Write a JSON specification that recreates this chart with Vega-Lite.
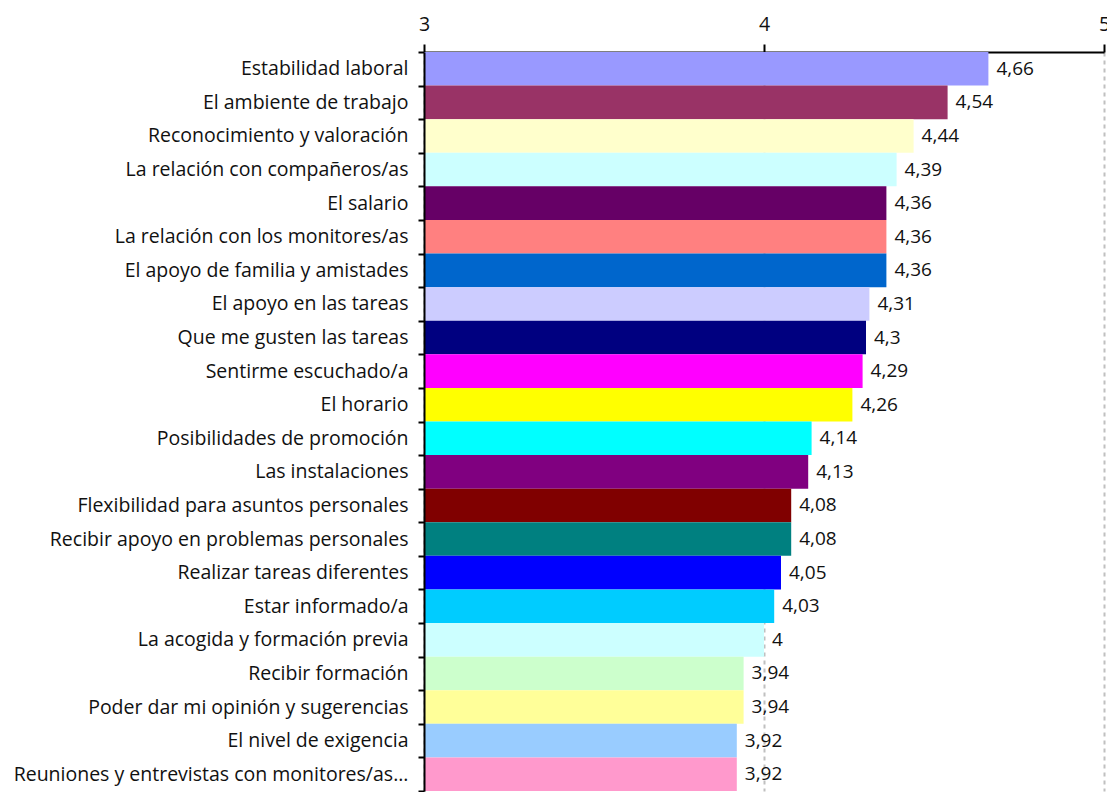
{
  "$schema": "https://vega.github.io/schema/vega-lite/v6.json",
  "autosize": "none",
  "width": 680,
  "height": 739,
  "padding": {"left": 424, "top": 52, "right": 3, "bottom": 1},
  "background": "white",
  "config": {
    "view": {"stroke": null},
    "font": "Open Sans",
    "locale": {
      "number": {"decimal": ",", "thousands": ".", "grouping": [3], "currency": ["", " €"]}
    }
  },
  "data": {
    "values": [
      {"aspecto": "Estabilidad laboral", "media": 4.66},
      {"aspecto": "El ambiente de trabajo", "media": 4.54},
      {"aspecto": "Reconocimiento y valoración", "media": 4.44},
      {"aspecto": "La relación con compañeros/as", "media": 4.39},
      {"aspecto": "El salario", "media": 4.36},
      {"aspecto": "La relación con los monitores/as", "media": 4.36},
      {"aspecto": "El apoyo de familia y amistades", "media": 4.36},
      {"aspecto": "El apoyo en las tareas", "media": 4.31},
      {"aspecto": "Que me gusten las tareas", "media": 4.3},
      {"aspecto": "Sentirme escuchado/a", "media": 4.29},
      {"aspecto": "El horario", "media": 4.26},
      {"aspecto": "Posibilidades de promoción", "media": 4.14},
      {"aspecto": "Las instalaciones", "media": 4.13},
      {"aspecto": "Flexibilidad para asuntos personales", "media": 4.08},
      {"aspecto": "Recibir apoyo en problemas personales", "media": 4.08},
      {"aspecto": "Realizar tareas diferentes", "media": 4.05},
      {"aspecto": "Estar informado/a", "media": 4.03},
      {"aspecto": "La acogida y formación previa", "media": 4.0},
      {"aspecto": "Recibir formación", "media": 3.94},
      {"aspecto": "Poder dar mi opinión y sugerencias", "media": 3.94},
      {"aspecto": "El nivel de exigencia", "media": 3.92},
      {"aspecto": "Reuniones y entrevistas con monitores/as...", "media": 3.92}
    ]
  },
  "encoding": {
    "y": {
      "field": "aspecto",
      "type": "nominal",
      "sort": null,
      "scale": {"paddingInner": 0, "paddingOuter": 0},
      "axis": {
        "title": null,
        "tickBand": "extent",
        "domainColor": "black",
        "domainWidth": 2,
        "tickColor": "black",
        "tickWidth": 2,
        "tickSize": 6,
        "labelPadding": 10,
        "labelLimit": 0,
        "labelFontSize": 19.5,
        "labelColor": "#111111",
        "labelFont": "Open Sans",
        "zindex": 1
      }
    },
    "x": {
      "field": "media",
      "type": "quantitative",
      "scale": {"domain": [3, 5], "nice": false, "zero": false, "clamp": true},
      "axis": {
        "orient": "top",
        "title": null,
        "tickCount": 2,
        "format": "d",
        "labelOverlap": false,
        "labelFlush": false,
        "domainColor": "black",
        "domainWidth": 2,
        "tickColor": "black",
        "tickWidth": 2,
        "tickSize": 8,
        "labelPadding": 10,
        "labelFontSize": 19.5,
        "labelColor": "#111111",
        "labelFont": "Open Sans",
        "grid": true,
        "gridColor": "#c0c0c0",
        "gridWidth": 2,
        "gridDash": [4, 4]
      }
    }
  },
  "layer": [
    {
      "mark": {"type": "bar"},
      "encoding": {
        "color": {
          "field": "aspecto",
          "type": "nominal",
          "legend": null,
          "scale": {
            "domain": [
              "Estabilidad laboral", "El ambiente de trabajo", "Reconocimiento y valoración",
              "La relación con compañeros/as", "El salario", "La relación con los monitores/as",
              "El apoyo de familia y amistades", "El apoyo en las tareas", "Que me gusten las tareas",
              "Sentirme escuchado/a", "El horario", "Posibilidades de promoción", "Las instalaciones",
              "Flexibilidad para asuntos personales", "Recibir apoyo en problemas personales",
              "Realizar tareas diferentes", "Estar informado/a", "La acogida y formación previa",
              "Recibir formación", "Poder dar mi opinión y sugerencias", "El nivel de exigencia",
              "Reuniones y entrevistas con monitores/as..."
            ],
            "range": [
              "#9999FF", "#993366", "#FFFFCC", "#CCFFFF", "#660066", "#FF8080", "#0066CC",
              "#CCCCFF", "#000080", "#FF00FF", "#FFFF00", "#00FFFF", "#800080", "#800000",
              "#008080", "#0000FF", "#00CCFF", "#CCFFFF", "#CCFFCC", "#FFFF99", "#99CCFF", "#FF99CC"
            ]
          }
        }
      }
    },
    {
      "mark": {"type": "text", "align": "left", "baseline": "middle", "dx": 8, "fontSize": 19, "font": "Open Sans", "color": "#111111"},
      "encoding": {
        "text": {"field": "media", "type": "quantitative", "format": ".3~g"}
      }
    }
  ]
}
